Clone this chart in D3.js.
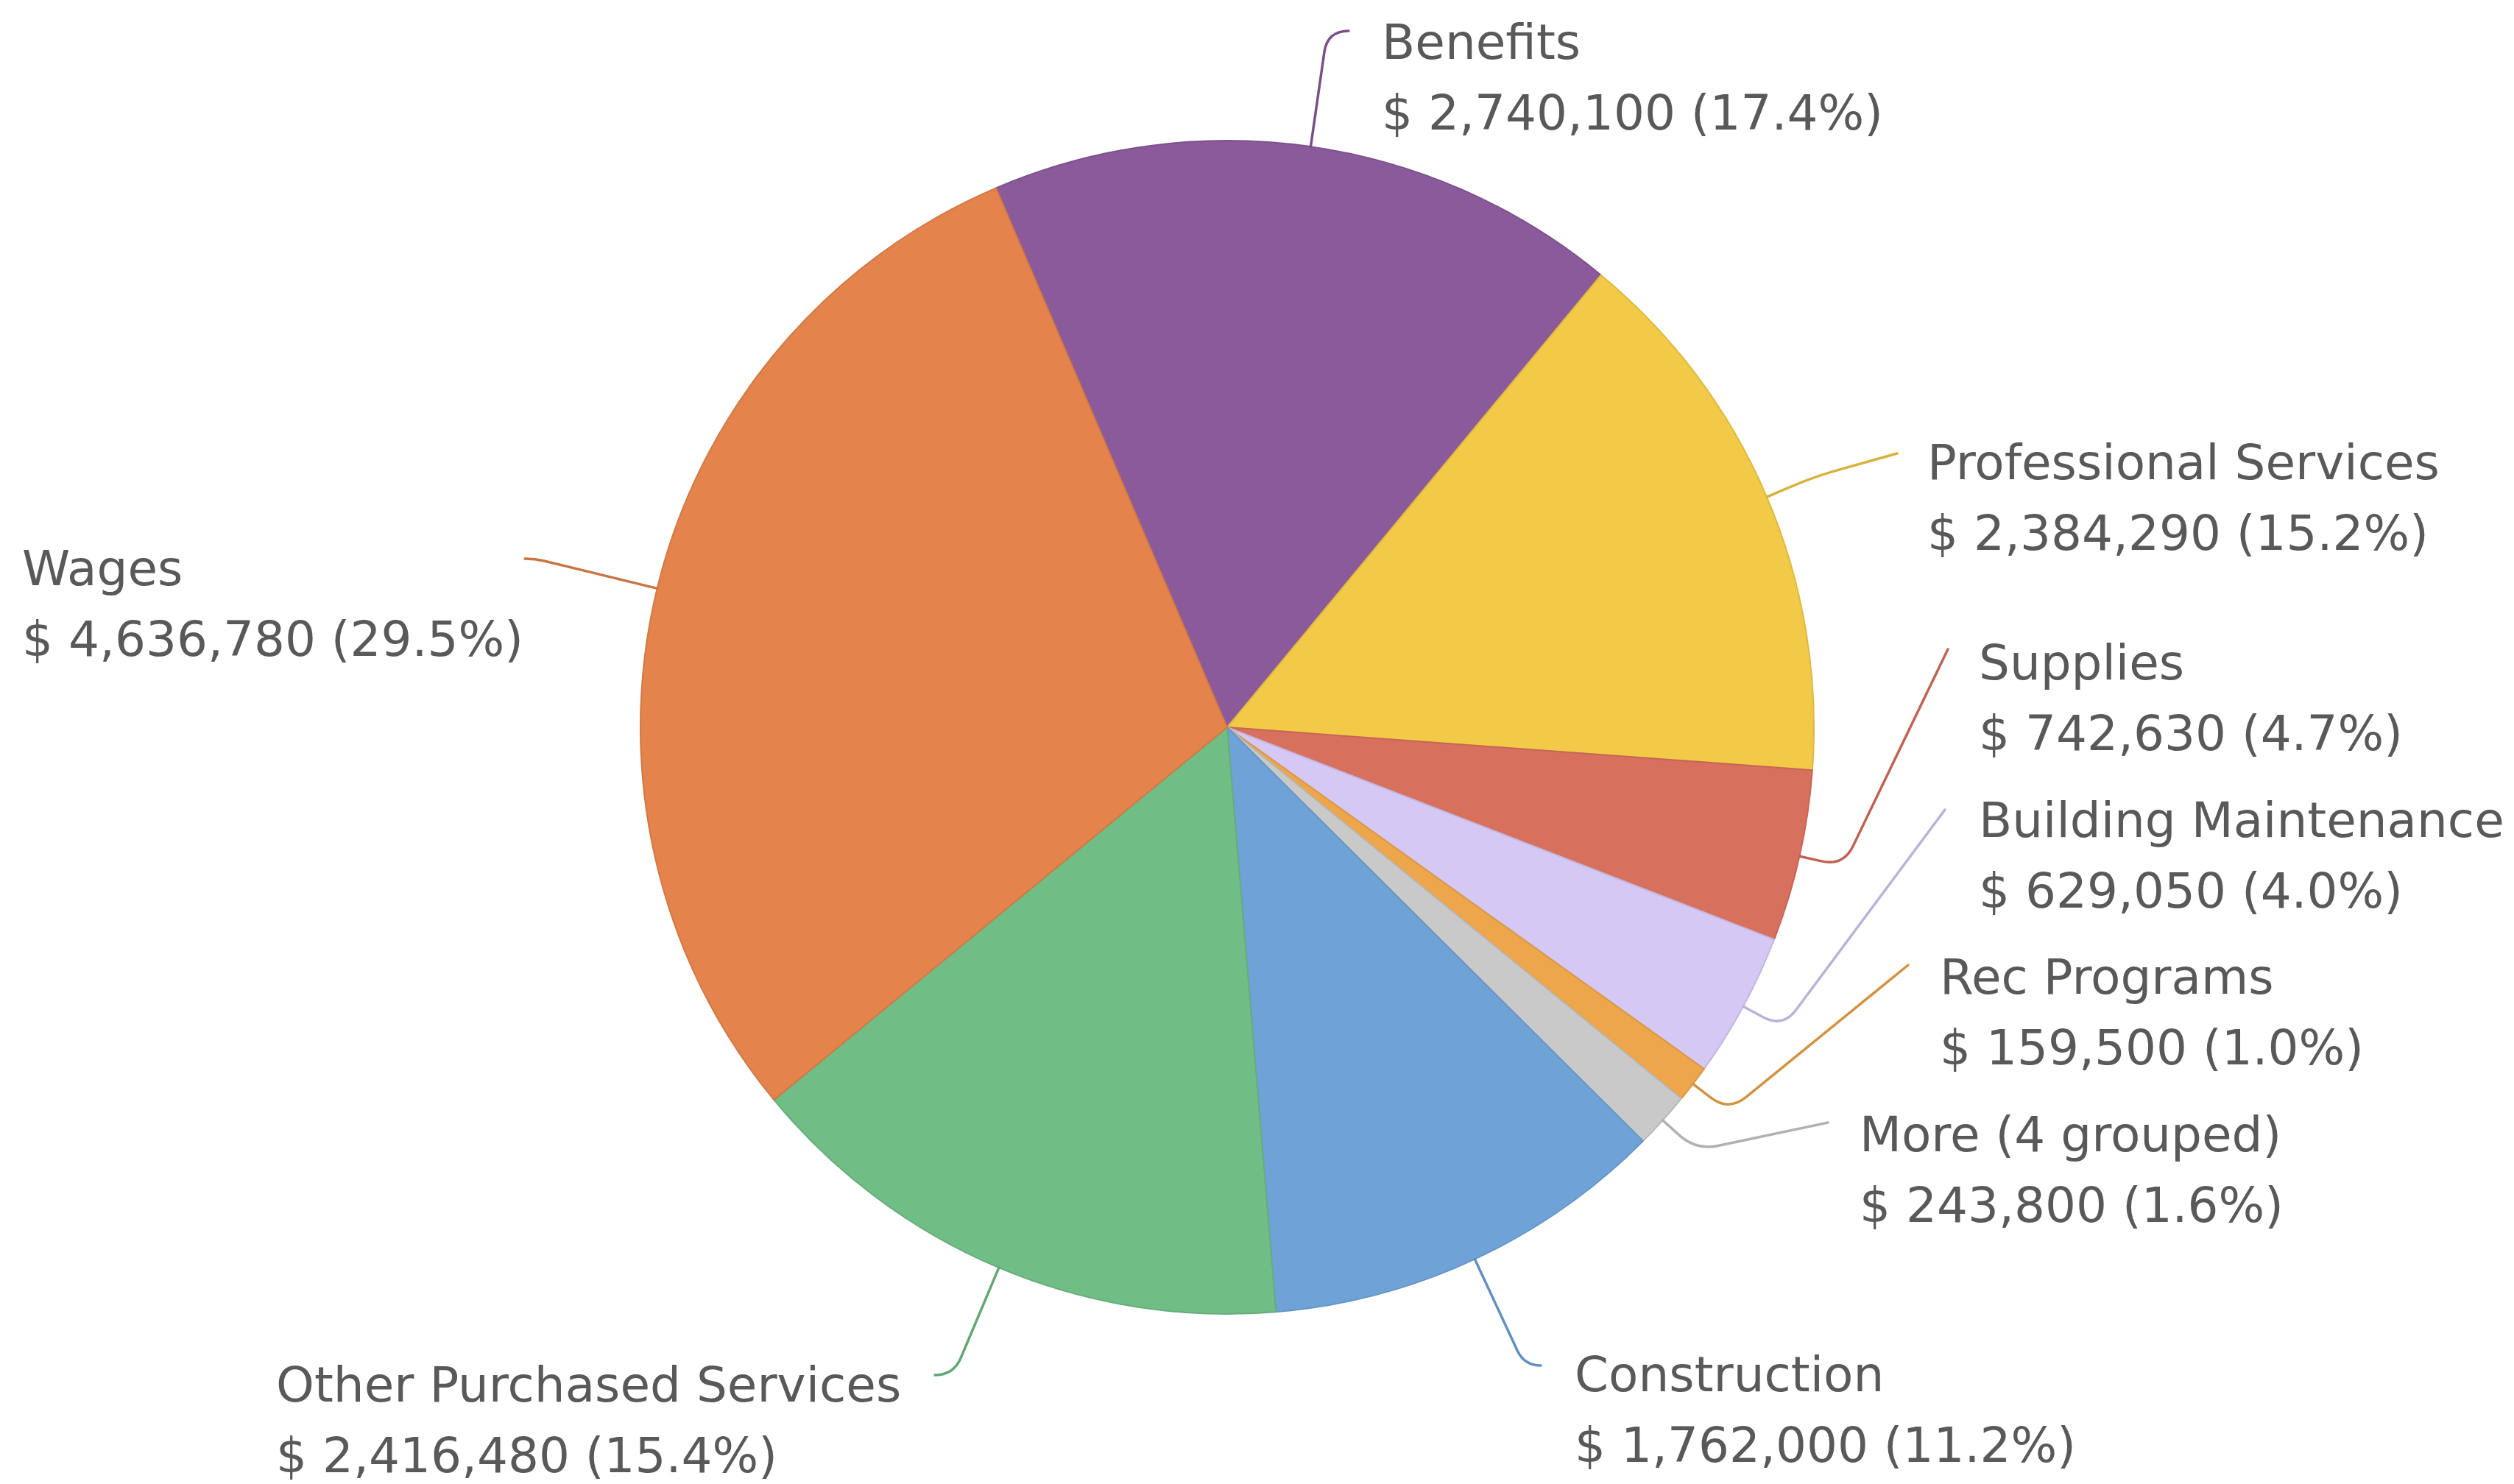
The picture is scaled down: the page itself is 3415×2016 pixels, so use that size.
<!DOCTYPE html>
<html>
<head>
<meta charset="utf-8">
<script src="https://cdn.jsdelivr.net/npm/d3@7"></script>
<style>
  body { margin: 0; background: #fff; }
  svg text { font-family: "DejaVu Sans", sans-serif; font-size: 66px; fill: #595959; }
</style>
</head>
<body>
<script>
/*
Budget pie chart, spending by category
*/

// data, clockwise starting at the benefits slice
var categories = ["Benefits", "Professional Services", "Supplies", "Building Maintenance",
                  "Rec Programs", "More (4 grouped)", "Construction", "Other Purchased Services", "Wages"];
var amounts = [2740100, 2384290, 742630, 629050, 159500, 243800, 1762000, 2416480, 4636780];
var colors = ["#8a5a9a", "#f2ca48", "#d8705e", "#d5c8f4", "#eea64a", "#c9c9c9", "#6fa3d7", "#70bd86", "#e4844c"];

// variables chart
var width = 3415;
var height = 2016;
var cx = 1667;
var cy = 988;
var radius = 797;
var startDeg = -23.2;
var lineGap = 96;

// label layout: text x, first baseline, end of the leader line, optional fixed bend distance
var labelPos = [
  { x: 1877, y: 80,   end: [1832, 42] },
  { x: 2618, y: 651,  end: [2577, 616], bend: 70 },
  { x: 2688, y: 923,  end: [2646, 882] },
  { x: 2688, y: 1137, end: [2642, 1100] },
  { x: 2635, y: 1350, end: [2592, 1311] },
  { x: 2526, y: 1564, end: [2483, 1525] },
  { x: 2139, y: 1890, end: [2093, 1855] },
  { x: 375,  y: 1904, end: [1270, 1868] },
  { x: 30,   y: 795,  end: [713, 759] }
];

var total = d3.sum(amounts);
var money = d3.format(",");

var slices = categories.map(function(c, i) {
  return { name: c, value: amounts[i], color: colors[i], pos: labelPos[i] };
});

var pie = d3.pie()
            .sort(null)
            .value(function(d) { return d.value; })
            .startAngle(startDeg * Math.PI / 180)
            .endAngle(startDeg * Math.PI / 180 + 2 * Math.PI);

var arc = d3.arc()
            .innerRadius(0)
            .outerRadius(radius);

var svg = d3.select("body")
            .append("svg")
            .attr("width", width)
            .attr("height", height);

// the slices
svg.append("g")
   .attr("transform", "translate(" + [cx, cy] + ")")
   .selectAll("path")
   .data(pie(slices))
   .enter()
   .append("path")
   .attr("d", arc)
   .attr("fill", function(d) { return d.data.color; })
   .attr("stroke", function(d) { return d3.color(d.data.color).darker(0.25); })
   .attr("stroke-width", 2)
   .attr("stroke-linejoin", "round");

// leader line: out from the slice edge, bend, then to the label
function leader(d) {
  var a = (d.startAngle + d.endAngle) / 2;
  var dx = Math.sin(a), dy = -Math.cos(a);
  var x0 = cx + dx * radius, y0 = cy + dy * radius;
  var end = d.data.pos.end;

  // bend where the line would reach the label height, else a short step out
  var dist = (end[1] - y0) / dy;
  if (!(dist > 100 && dist < 300)) dist = 61;
  if (d.data.pos.bend) dist = d.data.pos.bend;

  var ex = x0 + dx * dist, ey = y0 + dy * dist;
  var len2 = Math.hypot(end[0] - ex, end[1] - ey);
  var rc = Math.min(40, dist / 2, len2);
  var ux = (end[0] - ex) / len2, uy = (end[1] - ey) / len2;

  var p = d3.path();
  p.moveTo(x0, y0);
  p.lineTo(ex - dx * rc, ey - dy * rc);
  p.quadraticCurveTo(ex, ey, ex + ux * rc, ey + uy * rc);
  p.lineTo(end[0], end[1]);
  return p.toString();
}

svg.append("g")
   .selectAll("path")
   .data(pie(slices))
   .enter()
   .append("path")
   .attr("d", leader)
   .attr("fill", "none")
   .attr("stroke", function(d) { return d3.color(d.data.color).darker(0.35); })
   .attr("stroke-width", 3.5)
   .attr("stroke-linecap", "round")
   .attr("stroke-linejoin", "round");

// labels, two lines each
var labels = svg.append("g")
                .selectAll("text")
                .data(slices)
                .enter()
                .append("text")
                .attr("x", function(d) { return d.pos.x; })
                .attr("y", function(d) { return d.pos.y; });

labels.append("tspan")
      .text(function(d) { return d.name; });

labels.append("tspan")
      .attr("x", function(d) { return d.pos.x; })
      .attr("dy", lineGap)
      .text(function(d) {
        return "$ " + money(d.value) + " (" + (d.value / total * 100).toFixed(1) + "%)";
      });
</script>
</body>
</html>
